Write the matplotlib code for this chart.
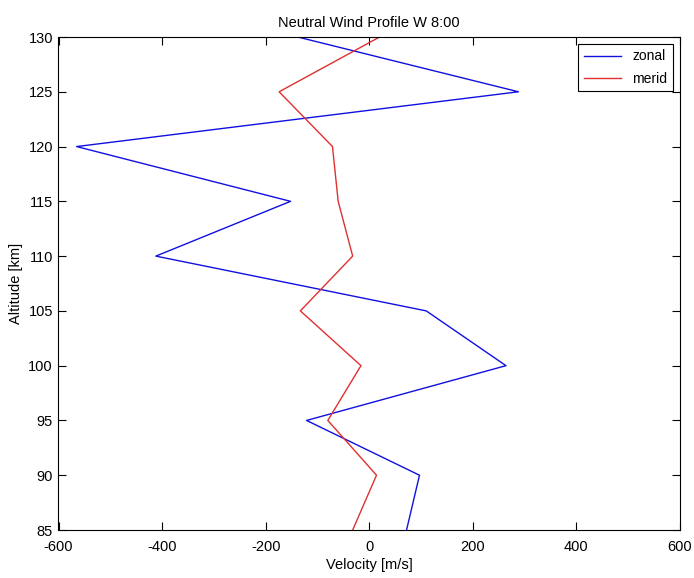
import matplotlib
matplotlib.use('Agg')
import matplotlib.pyplot as plt

# altitude levels (km) and wind components (m/s)
altitude = [130, 125, 120, 115, 110, 105, 100, 95, 90, 85]
zonal = [-138, 288, -565, -152, -412, 110, 264, -121, 97, 72]
merid = [20, -174, -71, -60, -32, -133, -16, -80, 14, -32]

plt.rcParams['font.family'] = ['Liberation Sans', 'DejaVu Sans']
plt.rcParams['font.size'] = 10.5
plt.rcParams['axes.unicode_minus'] = False

fig = plt.figure(figsize=(6.94, 5.78), dpi=100)
ax = fig.add_axes([58.5 / 694, 48 / 578, (680 - 58.5) / 694, (530 - 37) / 578])

ax.plot(zonal, altitude, color='#1010e0', linewidth=1.0, label='zonal')
ax.plot(merid, altitude, color='#e03030', linewidth=1.0, label='merid')

ax.set_xlim(-600, 600)
ax.set_ylim(85, 130)
ax.set_xticks(range(-600, 601, 200))
ax.set_yticks(range(85, 131, 5))
ax.tick_params(direction='in', top=True, right=True, length=6, width=0.8)
ax.tick_params(axis='x', pad=7)
ax.tick_params(axis='y', pad=4)
for s in ax.spines.values():
    s.set_linewidth(0.8)

ax.set_xlabel('Velocity [m/s]', labelpad=3)
ax.set_ylabel('Altitude [km]', labelpad=4)
ax.set_title('Neutral Wind Profile W 8:00', fontsize=10.5, pad=7)

leg = ax.legend(loc='upper right', fancybox=False, edgecolor='black',
                framealpha=1, borderaxespad=0.5, handlelength=2.7,
                fontsize=10, labelspacing=0.6)
leg.get_frame().set_linewidth(0.8)

fig.savefig('out.png', dpi=100)
